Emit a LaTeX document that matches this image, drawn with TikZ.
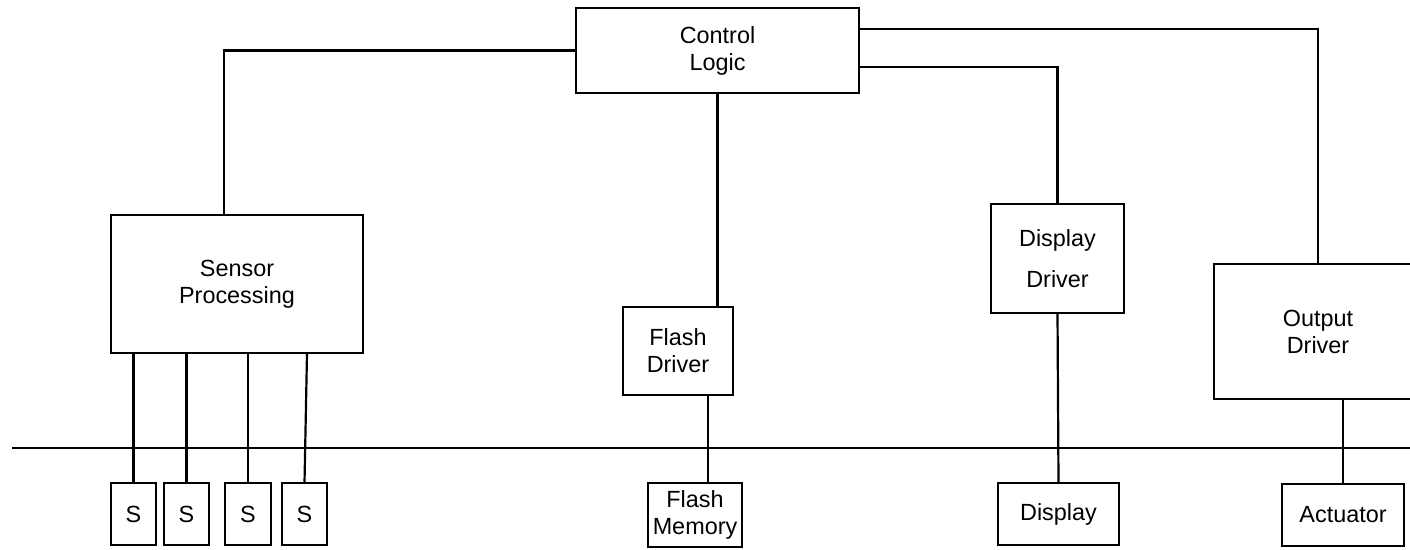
\documentclass[tikz,border=0pt]{standalone}
\usepackage{fontspec}
\setmainfont{Liberation Sans}
\begin{document}
\begin{tikzpicture}[x=1pt,y=-1pt,
  box/.style={draw,line width=2.2pt,inner sep=0pt,outer sep=0pt,align=center,
    font=\fontsize{23.4}{27}\selectfont},
  wire/.style={line width=2.2pt}]
\useasboundingbox (0,0) rectangle (1410,549);
\clip (0,0) rectangle (1410,549);
\node[box,minimum width=283,minimum height=85] (ctrl) at (717.5,50.5) {Control\\Logic};
\node[box,minimum width=252,minimum height=138] (sensor) at (237,284) {Sensor\\Processing};
\node[box,minimum width=110,minimum height=88] (flashdrv) at (678,351) {Flash\\Driver};
\node[box,minimum width=133,minimum height=109,font=\fontsize{23.4}{41}\selectfont] (dispdrv) at (1057.5,258.5) {Display\\Driver};
\node[box,minimum width=208,minimum height=135] (outdrv) at (1318,331.5) {Output\\Driver};
\node[box,minimum width=45,minimum height=62] (s1) at (133.5,514) {S};
\node[box,minimum width=45,minimum height=62] (s2) at (186.5,514) {S};
\node[box,minimum width=46,minimum height=62] (s3) at (248,514) {S};
\node[box,minimum width=45,minimum height=62] (s4) at (304.5,514) {S};
\node[box,minimum width=94,minimum height=64] (flashmem) at (695,515) {Flash\\Memory};
\node[box,minimum width=121,minimum height=62] (display) at (1058.5,514) {Display};
\node[box,minimum width=122,minimum height=62] (actuator) at (1343,515) {Actuator};
\coordinate (busL) at (12,448);
\coordinate (busR) at (1410,448);
\draw[wire] (busL) -- (busR);
\draw[wire] (ctrl.west) -| ([xshift=-13pt]sensor.north);
\draw[wire] ([yshift=21.5pt]ctrl.east) -| (outdrv.north);
\draw[wire] ([yshift=-16.5pt]ctrl.east) -| (dispdrv.north);
\draw[wire] (ctrl.south) -- (ctrl.south |- flashdrv.north);
\draw[wire] ([xshift=30pt]flashdrv.south) -- ([xshift=30pt]flashdrv.south |- flashmem.north);
\draw[wire] (dispdrv.south) -- (display.north);
\draw[wire] (outdrv.south -| actuator.north) -- (actuator.north);
\draw[wire] (s1.north |- sensor.south) -- (s1.north);
\draw[wire] (s2.north |- sensor.south) -- (s2.north);
\draw[wire] (s3.north |- sensor.south) -- (s3.north);
\draw[wire] ([xshift=2.5pt]s4.north |- sensor.south) -- (s4.north);
\end{tikzpicture}
\end{document}
